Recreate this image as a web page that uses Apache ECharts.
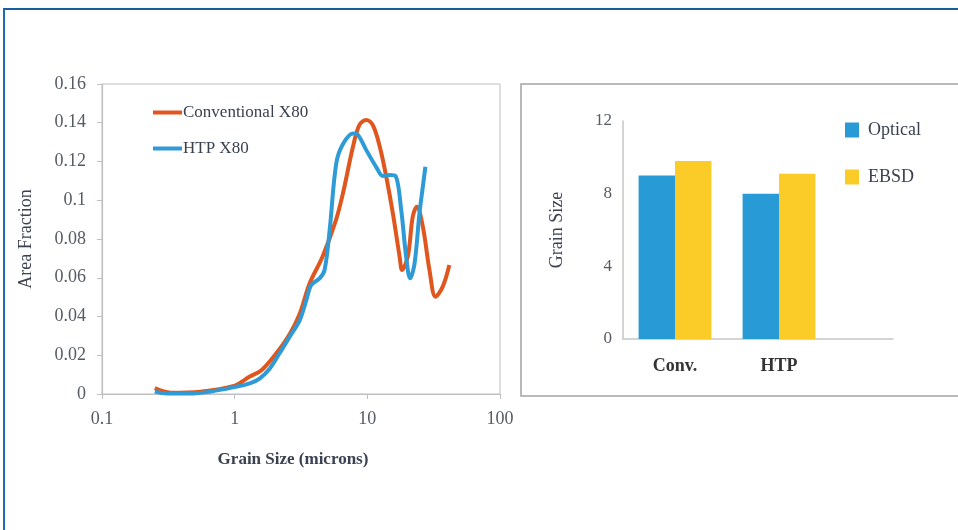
<!DOCTYPE html>
<html>
<head>
<meta charset="utf-8">
<script src="https://cdn.jsdelivr.net/npm/echarts@6/dist/echarts.min.js"></script>
<style>
  html, body { margin: 0; padding: 0; background: #fff; }
  #chart { width: 958px; height: 530px; }
</style>
</head>
<body>
<div id="chart"></div>
<script>
// Grain size distribution (area fraction vs. grain size, log scale)
const convX = [0.25, 0.33, 0.55, 0.97, 1.3, 1.6, 2.06, 2.6, 3.1, 3.67, 4.6, 5.8, 6.55, 7.8, 8.7, 9.8, 11.0, 12.4, 13.9, 15.6, 17.5, 18.3, 20.2, 22.0, 23.6, 26.2, 29.4, 32.7, 37.0, 41.5];
const convY = [0.003, 0.0007, 0.0012, 0.004, 0.009, 0.0124, 0.021, 0.031, 0.0416, 0.057, 0.071, 0.0898, 0.1036, 0.1277, 0.1388, 0.1414, 0.1388, 0.1277, 0.112, 0.093, 0.071, 0.064, 0.071, 0.0915, 0.0967, 0.0864, 0.064, 0.0502, 0.0554, 0.0666];
const htpX = [0.25, 0.31, 0.46, 0.65, 0.97, 1.3, 1.55, 1.84, 2.18, 2.6, 3.09, 3.47, 3.78, 4.37, 4.76, 5.2, 5.83, 6.55, 7.78, 8.5, 9.8, 11.7, 13.1, 14.7, 16.3, 18.0, 19.6, 21.0, 22.7, 24.7, 26.2, 27.4];
const htpY = [0.0012, 0.0002, 0.0002, 0.0012, 0.0034, 0.0055, 0.0081, 0.0132, 0.021, 0.0296, 0.038, 0.0485, 0.0563, 0.0597, 0.064, 0.0846, 0.119, 0.129, 0.1345, 0.1337, 0.126, 0.117, 0.1125, 0.113, 0.1125, 0.095, 0.071, 0.0597, 0.0674, 0.0932, 0.107, 0.1173];

// Mean grain size by method
const categories = ['Conv.', 'HTP'];
const optical = [9.0, 8.0];
const ebsd = [9.8, 9.1];

const lineNames = ['Conventional X80', 'HTP X80'];
const barNames = ['Optical', 'EBSD'];

const zip = (xs, ys) => xs.map((x, i) => [x, ys[i]]);

const SERIF = '"Liberation Serif", "Times New Roman", serif';
const ORANGE = '#e0561f';
const BLUE_LINE = '#2e9bd6';
const BLUE_BAR = '#289bd7';
const YELLOW = '#fbcb28';
const AXIS_GREY = '#bfbfbf';

const chart = echarts.init(document.getElementById('chart'), null, { renderer: 'canvas' });

chart.setOption({
  backgroundColor: '#ffffff',
  animation: false,
  textStyle: { fontFamily: SERIF },
  graphic: [
    // page frame
    { type: 'line', shape: { x1: 3, y1: 9, x2: 958, y2: 9 }, style: { stroke: '#1b5c9b', lineWidth: 2 } },
    { type: 'line', shape: { x1: 4, y1: 9, x2: 4, y2: 530 }, style: { stroke: '#1e69b8', lineWidth: 2 } },
    // box around the bar chart panel
    { type: 'rect', shape: { x: 521, y: 84, width: 460, height: 312 }, style: { fill: 'none', stroke: '#a3a3a3', lineWidth: 1.5 } }
  ],
  legend: [
    {
      data: lineNames,
      orient: 'vertical',
      left: 148,
      top: 99,
      icon: 'rect',
      itemWidth: 29,
      itemHeight: 4,
      itemGap: 19,
      textStyle: { fontFamily: SERIF, fontSize: 17, color: '#3b4150', padding: [0, 0, 0, -4] }
    },
    {
      data: barNames,
      orient: 'vertical',
      left: 840,
      top: 116,
      icon: 'rect',
      itemWidth: 14,
      itemHeight: 15,
      itemGap: 29,
      textStyle: { fontFamily: SERIF, fontSize: 18, color: '#3b4150', padding: [0, 0, 0, 4] }
    }
  ],
  grid: [
    { left: 102, top: 84, width: 398, height: 310, show: true, borderColor: AXIS_GREY, borderWidth: 1, backgroundColor: 'transparent' },
    { left: 623, top: 121, width: 208, height: 218 },
    { left: 623, top: 121, width: 270, height: 218 }
  ],
  xAxis: [
    {
      gridIndex: 0,
      type: 'log',
      logBase: 10,
      min: 0.1,
      max: 100,
      name: 'Grain Size (microns)',
      nameLocation: 'middle',
      nameGap: 57,
      nameTextStyle: { fontFamily: SERIF, fontSize: 17, fontWeight: 'bold', color: '#3b4150', padding: [0, 0, 0, -16] },
      axisLine: { show: true, lineStyle: { color: AXIS_GREY, width: 1.2 } },
      axisTick: { show: true, length: 5, lineStyle: { color: AXIS_GREY } },
      axisLabel: { fontFamily: SERIF, fontSize: 18, color: '#555a63', margin: 16 },
      splitLine: { show: false },
      minorTick: { show: false }
    },
    {
      gridIndex: 1,
      type: 'category',
      data: categories,
      axisLine: { show: false },
      axisTick: { show: false },
      axisLabel: { fontFamily: SERIF, fontSize: 18, fontWeight: 'bold', color: '#333', margin: 18 }
    },
    {
      gridIndex: 2,
      type: 'value',
      min: 0,
      max: 1,
      axisLine: { show: true, lineStyle: { color: '#c6c6c6', width: 1.5 } },
      axisTick: { show: false },
      axisLabel: { show: false },
      splitLine: { show: false }
    }
  ],
  yAxis: [
    {
      gridIndex: 0,
      type: 'value',
      min: 0,
      max: 0.16,
      interval: 0.02,
      name: 'Area Fraction',
      nameLocation: 'middle',
      nameGap: 67,
      nameTextStyle: { fontFamily: SERIF, fontSize: 18, color: '#3b4150' },
      axisLine: { show: true, lineStyle: { color: AXIS_GREY, width: 1.2 } },
      axisTick: { show: true, length: 5, lineStyle: { color: AXIS_GREY } },
      axisLabel: { fontFamily: SERIF, fontSize: 18, color: '#555a63', margin: 16 },
      splitLine: { show: false }
    },
    {
      gridIndex: 1,
      type: 'value',
      min: 0,
      max: 12,
      interval: 4,
      name: 'Grain Size',
      nameLocation: 'middle',
      nameGap: 57,
      nameTextStyle: { fontFamily: SERIF, fontSize: 18, color: '#3b4150' },
      axisLine: { show: true, lineStyle: { color: '#c6c6c6', width: 1.5 } },
      axisTick: { show: false },
      axisLabel: { fontFamily: SERIF, fontSize: 17, color: '#555a63', margin: 11 },
      splitLine: { show: false }
    },
    {
      gridIndex: 2,
      type: 'value',
      min: 0,
      max: 1,
      show: false
    }
  ],
  series: [
    {
      name: lineNames[0],
      type: 'line',
      xAxisIndex: 0,
      yAxisIndex: 0,
      data: zip(convX, convY),
      smooth: 0.35,
      showSymbol: false,
      symbol: 'none',
      lineStyle: { color: ORANGE, width: 4 },
      itemStyle: { color: ORANGE }
    },
    {
      name: lineNames[1],
      type: 'line',
      xAxisIndex: 0,
      yAxisIndex: 0,
      data: zip(htpX, htpY),
      smooth: 0.35,
      showSymbol: false,
      symbol: 'none',
      lineStyle: { color: BLUE_LINE, width: 4 },
      itemStyle: { color: BLUE_LINE }
    },
    {
      name: barNames[0],
      type: 'bar',
      xAxisIndex: 1,
      yAxisIndex: 1,
      data: optical,
      barGap: '0%',
      barCategoryGap: '30%',
      itemStyle: { color: BLUE_BAR }
    },
    {
      name: barNames[1],
      type: 'bar',
      xAxisIndex: 1,
      yAxisIndex: 1,
      data: ebsd,
      barGap: '0%',
      barCategoryGap: '30%',
      itemStyle: { color: YELLOW }
    }
  ]
});
</script>
</body>
</html>
